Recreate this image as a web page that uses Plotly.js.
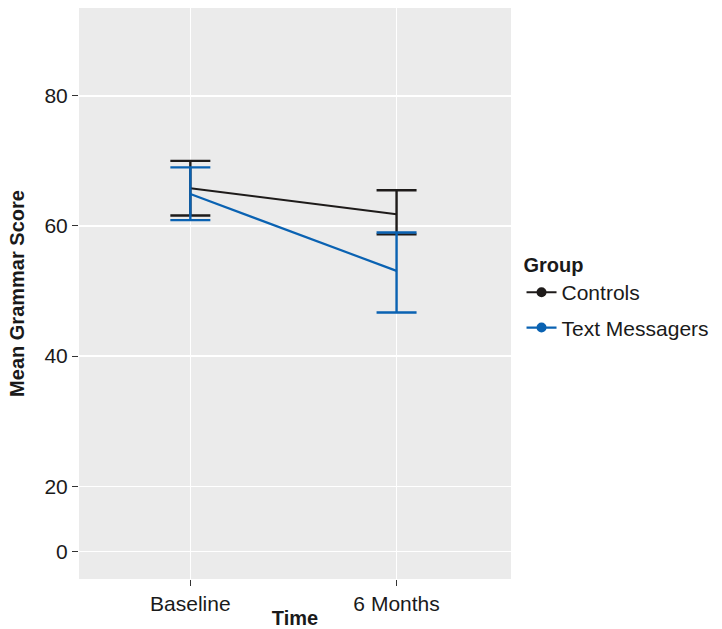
<!DOCTYPE html>
<html>
<head>
<meta charset="utf-8">
<script src="https://cdn.plot.ly/plotly-3.0.1.min.js"></script>
<style>html,body{margin:0;padding:0;background:#fff;}#chart{width:722px;height:629px;}</style>
</head>
<body>
<div id="chart"></div>
<script>
var timePoints = ['Baseline', '6 Months'];
var groups = ['Controls', 'Text Messagers'];
var controlsMean = [65.8, 61.8];
var controlsUpper = [70.0, 65.5];
var controlsLower = [61.6, 58.7];
var textMean = [64.9, 53.1];
var textUpper = [69.0, 59.0];
var textLower = [60.9, 46.7];
var yTickVals = [10, 20, 40, 60, 80];
var yTickLabels = ['0', '20', '40', '60', '80'];

var colors = ['#1e1b1a', '#0a62b2'];

function diff(a, b) { return a.map(function (v, i) { return v - b[i]; }); }

var means = [controlsMean, textMean];
var uppers = [controlsUpper, textUpper];
var lowers = [controlsLower, textLower];

var data = [];
groups.forEach(function (g, k) {
  data.push({
    type: 'scatter', mode: 'lines', x: timePoints, y: means[k],
    line: {color: colors[k], width: 2.2},
    error_y: {type: 'data', symmetric: false, array: diff(uppers[k], means[k]), arrayminus: diff(means[k], lowers[k]),
      color: colors[k], thickness: 2.4, width: 20},
    showlegend: false, hoverinfo: 'skip'
  });
});
groups.forEach(function (g, k) {
  data.push({
    type: 'scatter', mode: 'lines+markers', x: [null], y: [null], name: g,
    legendgroup: 'g' + k,
    line: {color: colors[k], width: 2.2},
    marker: {color: colors[k], size: 10}
  });
});

var layout = {
  width: 722, height: 629,
  margin: {l: 79, r: 210, t: 8, b: 50},
  paper_bgcolor: '#ffffff', plot_bgcolor: '#ebebeb',
  font: {family: 'Liberation Sans, Arial, sans-serif', size: 21, color: '#1a1a1a'},
  xaxis: {
    type: 'category', range: [-0.54, 1.555],
    showgrid: true, gridcolor: '#ffffff', gridwidth: 1.4,
    ticks: 'outside', ticklen: 6, tickcolor: '#333333', tickwidth: 1,
    tickfont: {size: 21, color: '#1a1a1a'},
    zeroline: false, showline: false,
    title: {text: '<b>Time</b>', font: {size: 20, color: '#1a1a1a'}, standoff: 0}
  },
  yaxis: {
    range: [5.74, 93.5],
    tickvals: yTickVals, ticktext: yTickLabels,
    showgrid: true, gridcolor: '#ffffff', gridwidth: 1.4,
    ticks: 'outside', ticklen: 6, tickcolor: '#333333', tickwidth: 1,
    tickfont: {size: 21, color: '#1a1a1a'},
    zeroline: false, showline: false,
    title: {text: '<b>Mean Grammar Score</b>', font: {size: 20, color: '#1a1a1a'}, standoff: 14}
  },
  legend: {
    x: 1.022, xanchor: 'left', y: 0.583, yanchor: 'top',
    bgcolor: 'rgba(0,0,0,0)',
    title: {text: '<b>Group</b>', font: {size: 20}},
    font: {size: 21, color: '#1a1a1a'},
    traceorder: 'grouped', tracegroupgap: 5,
    itemwidth: 30
  },
  showlegend: true
};

Plotly.newPlot('chart', data, layout, {displayModeBar: false, staticPlot: true});
</script>
</body>
</html>
